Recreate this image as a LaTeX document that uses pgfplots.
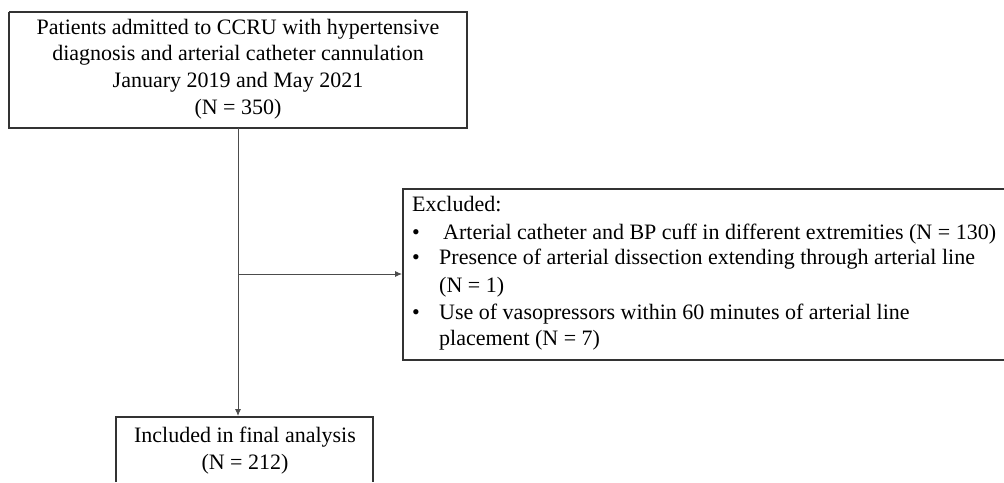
\documentclass[border=0pt]{standalone}
\usepackage{pgfplots}
\pgfplotsset{compat=1.18}
\usepackage{fontspec}
\setmainfont{Liberation Serif}
\usetikzlibrary{arrows.meta}
\tikzset{tx/.style={font=\fontsize{22}{26}\selectfont, inner sep=0pt, text=black}}
\begin{document}
\begin{tikzpicture}
\begin{axis}[
  scale only axis, width=1004pt, height=482pt,
  xmin=0, xmax=1004, ymin=0, ymax=482, y dir=reverse,
  hide axis, clip=false,
]
% boxes
\addplot[draw=black!80, line width=1.3pt] coordinates {(9,12)(467,12)(467,128)(9,128)(9,12)};
\addplot[draw=black!80, line width=1.3pt] coordinates {(1004,189)(403,189)(403,360)(1004,360)};
\addplot[draw=black!80, line width=1.3pt] coordinates {(116,482)(116,417)(373,417)(373,482)};
% connectors
\addplot[draw=black!70, line width=0.9pt, -{Latex[length=7pt,width=6pt]}] coordinates {(238,128)(238,416)};
\addplot[draw=black!70, line width=0.9pt, -{Latex[length=7pt,width=6pt]}] coordinates {(238,274)(402,274)};
% top box text
\node[tx,anchor=mid] at (axis cs:238,32) {Patients admitted to CCRU with hypertensive};
\node[tx,anchor=mid] at (axis cs:238,58) {diagnosis and arterial catheter cannulation};
\node[tx,anchor=mid] at (axis cs:238,85) {January 2019 and May 2021};
\node[tx,anchor=mid] at (axis cs:238,112) {(N = 350)};
% excluded box
\node[tx,anchor=mid west] at (axis cs:412,209) {Excluded:};
\node[tx,anchor=mid west] at (axis cs:412,237) {\textbullet};
\node[tx,anchor=mid west] at (axis cs:412,262) {\textbullet};
\node[tx,anchor=mid west] at (axis cs:412,317) {\textbullet};
\node[tx,anchor=mid west] at (axis cs:443,237) {Arterial catheter and BP cuff in different extremities (N = 130)};
\node[tx,anchor=mid west] at (axis cs:439,262) {Presence of arterial dissection extending through arterial line};
\node[tx,anchor=mid west] at (axis cs:439,290) {(N = 1)};
\node[tx,anchor=mid west] at (axis cs:439,317) {Use of vasopressors within 60 minutes of arterial line};
\node[tx,anchor=mid west] at (axis cs:439,343) {placement (N = 7)};
% bottom box text
\node[tx,anchor=mid] at (axis cs:245,440) {Included in final analysis};
\node[tx,anchor=mid] at (axis cs:245,467) {(N = 212)};
\end{axis}
\pgfresetboundingbox
\useasboundingbox (current axis.south west) rectangle (current axis.north east);
\end{tikzpicture}
\end{document}
